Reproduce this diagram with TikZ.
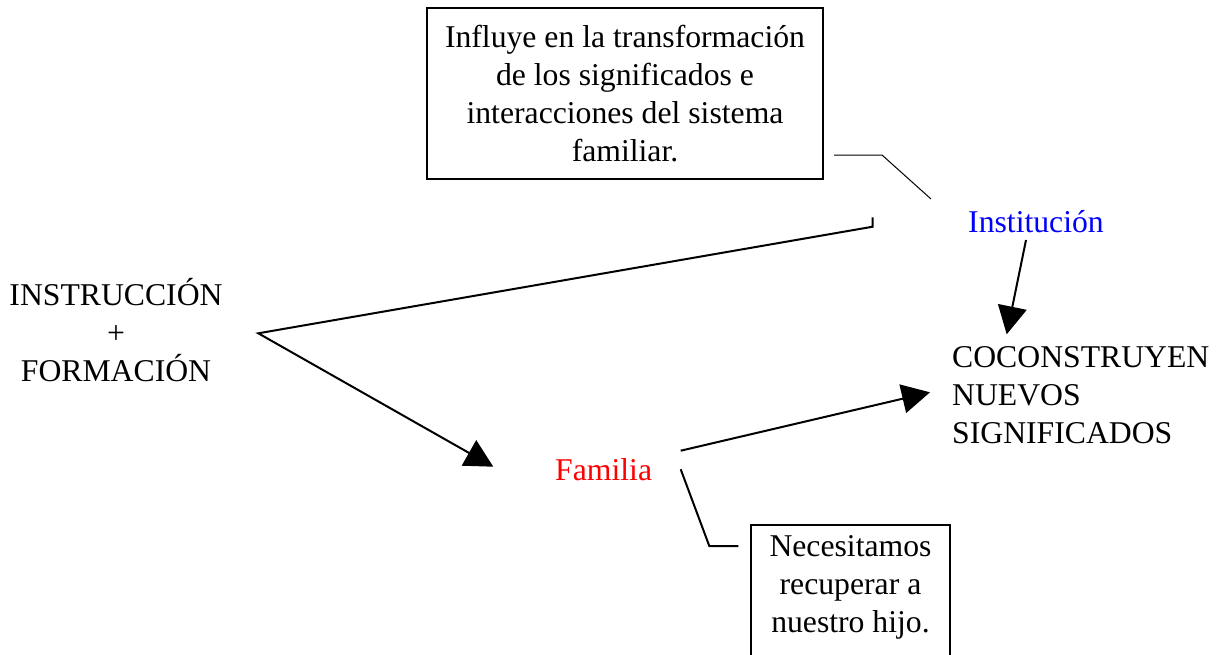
\documentclass[tikz,border=0pt]{standalone}
\usepackage{fontspec}
\setmainfont{Liberation Serif}
\usetikzlibrary{arrows.meta}
\begin{document}
\begin{tikzpicture}[x=1pt,y=-1pt,
  every node/.style={font=\fontsize{31.7pt}{38pt}\selectfont, inner sep=0pt},
  box/.style={draw, line width=2pt, inner sep=0pt},
  conn/.style={line width=2pt},
  arr/.style={conn, -{Triangle[length=28pt,width=29pt]}},
  thinline/.style={line width=1pt}]
\clip (0,0) rectangle (1225,654);
\useasboundingbox (0,0) rectangle (1225,654);
% nodes
\node[box, minimum width=396pt, minimum height=171pt, align=center] (influye) at (625,93.5)
  {Influye en la transformación\\de los significados e\\interacciones del sistema\\familiar.};
\node[text=blue, anchor=base west] (inst) at (968,232) {Institución};
\node[align=center] (instr) at (116,330.5) {INSTRUCCIÓN\\+\\FORMACIÓN};
\node[text=red, anchor=base west] (fam) at (555,480) {Familia};
\node[align=left, anchor=west] (coc) at (952,395) {COCONSTRUYEN\\NUEVOS\\SIGNIFICADOS};
\node[box, minimum width=199pt, minimum height=170pt, anchor=north] (necbox) at (850.5,524) {};
\node[align=center] (nec) at (850.5,587.7) {Necesitamos\\recuperar a\\nuestro hijo.};
% connector points
\coordinate (instTop) at (872.7,217.3);
\coordinate (instBend) at (872.7,226.7);
\coordinate (apex) at (258.3,333.3);
\coordinate (famIn) at (493.3,466.7);
\coordinate (famOut) at (680.7,450.7);
\coordinate (cocIn) at (930,392.3);
\coordinate (instOut) at (1026,240);
\coordinate (cocTop) at (1006.7,334.3);
\coordinate (famLow) at (680.7,469.3);
\coordinate (necBend) at (709.3,546);
\coordinate (necIn) at (738.3,546);
\coordinate (infOut) at (834,155);
\coordinate (infBend) at (882,155);
\coordinate (instIn) at (931,199);
% connectors
\draw[arr] (instTop) -- (instBend) -- (apex) -- (famIn);
\draw[arr] (famOut) -- (cocIn);
\draw[arr] (instOut) -- (cocTop);
\draw[conn] (famLow) -- (necBend) -- (necIn);
\draw[thinline] (infOut) -- (infBend) -- (instIn);
\end{tikzpicture}
\end{document}
